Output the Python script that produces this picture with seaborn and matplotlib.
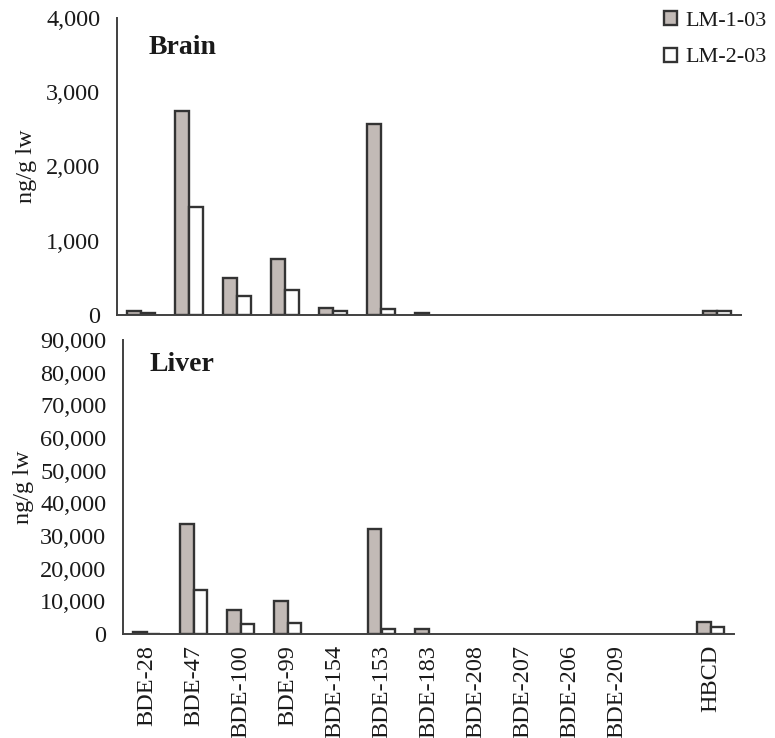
import numpy as np
import pandas as pd
import matplotlib
matplotlib.use("Agg")
import matplotlib.pyplot as plt
from matplotlib.patches import Patch
from matplotlib.ticker import FuncFormatter
import seaborn as sns

categories = ["BDE-28", "BDE-47", "BDE-100", "BDE-99", "BDE-154", "BDE-153",
              "BDE-183", "BDE-208", "BDE-207", "BDE-206", "BDE-209", "", "HBCD"]
series = ["LM-1-03", "LM-2-03"]
brain_lm1 = [50, 2750, 500, 750, 90, 2570, 30, 0, 0, 0, 0, 0, 55]
brain_lm2 = [30, 1450, 260, 340, 60, 80, 0, 0, 0, 0, 0, 0, 55]
liver_lm1 = [700, 33800, 7300, 10000, 0, 32000, 1500, 0, 0, 0, 0, 0, 3700]
liver_lm2 = [100, 13500, 3000, 3500, 0, 1500, 0, 0, 0, 0, 0, 0, 2200]
brain_ticks = [0, 1000, 2000, 3000, 4000]
liver_ticks = [0, 10000, 20000, 30000, 40000, 50000, 60000, 70000, 80000, 90000]

sns.set_theme(style="white")
plt.rcParams['font.family'] = ['Liberation Serif', 'DejaVu Serif']
FS = 17.5

def long_df(v1, v2):
    df = pd.DataFrame({
        "cat": categories * 2,
        "sample": [series[0]] * len(categories) + [series[1]] * len(categories),
        "value": list(v1) + list(v2),
    })
    df["value"] = df["value"].replace(0, np.nan)
    return df

colors = {series[0]: "#c2bab6", series[1]: "#ffffff"}
edge = "#333333"
spine_c = "#404040"
text_c = "#1a1a1a"

W, H = 775, 738
fig = plt.figure(figsize=(W / 100, H / 100), dpi=100)
ax1 = fig.add_axes([117 / W, 1 - 315 / H, (741 - 117) / W, (315 - 18) / H])
ax2 = fig.add_axes([123 / W, 1 - 634 / H, (734 - 123) / W, (634 - 340) / H])

fmt = FuncFormatter(lambda v, p: f"{v:,.0f}")

for ax, (v1, v2), ticks, title, tpos in [
    (ax1, (brain_lm1, brain_lm2), brain_ticks, "Brain", (0.05, 0.902)),
    (ax2, (liver_lm1, liver_lm2), liver_ticks, "Liver", (0.044, 0.915)),
]:
    df = long_df(v1, v2)
    sns.barplot(data=df, x="cat", y="value", hue="sample", order=categories,
                hue_order=series, palette=colors, edgecolor=edge, linewidth=1.7,
                width=0.58, dodge=True, legend=False, ax=ax, saturation=1)
    ax.set_xlim(-0.5, len(categories) - 0.5)
    ax.set_ylim(ticks[0], ticks[-1])
    ax.set_yticks(ticks)
    ax.yaxis.set_major_formatter(fmt)
    ax.set_xlabel("")
    ax.set_ylabel("ng/g lw", fontsize=FS, color=text_c)
    for s in ["top", "right"]:
        ax.spines[s].set_visible(False)
    for s in ["left", "bottom"]:
        ax.spines[s].set_color(spine_c)
        ax.spines[s].set_linewidth(1.4)
    ax.set_xticks(np.arange(-0.5, len(categories), 1), minor=True)
    ax.tick_params(axis="x", which="major", length=0, pad=8)
    ax.tick_params(axis="x", which="minor", length=5, width=1.4, color=spine_c, direction="out")
    ax.tick_params(axis="y", which="major", length=6, width=1.4, color=spine_c,
                   direction="out", pad=6, labelsize=FS, labelcolor=text_c)
    ax.text(tpos[0], tpos[1], title, transform=ax.transAxes, color=text_c,
            fontsize=20, fontweight="bold", ha="left", va="center")

ax1.set_xticklabels([])
ax2.set_xticks(range(len(categories)))
ax2.set_xticklabels(categories, rotation=90, fontsize=FS, va="top", ha="center", color=text_c)

ax1.yaxis.set_label_coords(-0.128, 0.5)
ax2.yaxis.set_label_coords(-0.146, 0.5)

handles = [Patch(facecolor=colors[s], edgecolor=edge, linewidth=1.7, label=s) for s in series]
leg = fig.legend(handles=handles, loc="upper left", bbox_to_anchor=(664 / W, 1 - 11 / H),
                 frameon=False, fontsize=16, handlelength=0.6, handleheight=0.6,
                 handletextpad=0.35, labelspacing=0.75, borderpad=0.0, borderaxespad=0.0)
for t in leg.get_texts():
    t.set_color(text_c)

fig.savefig("out.png", dpi=100)
